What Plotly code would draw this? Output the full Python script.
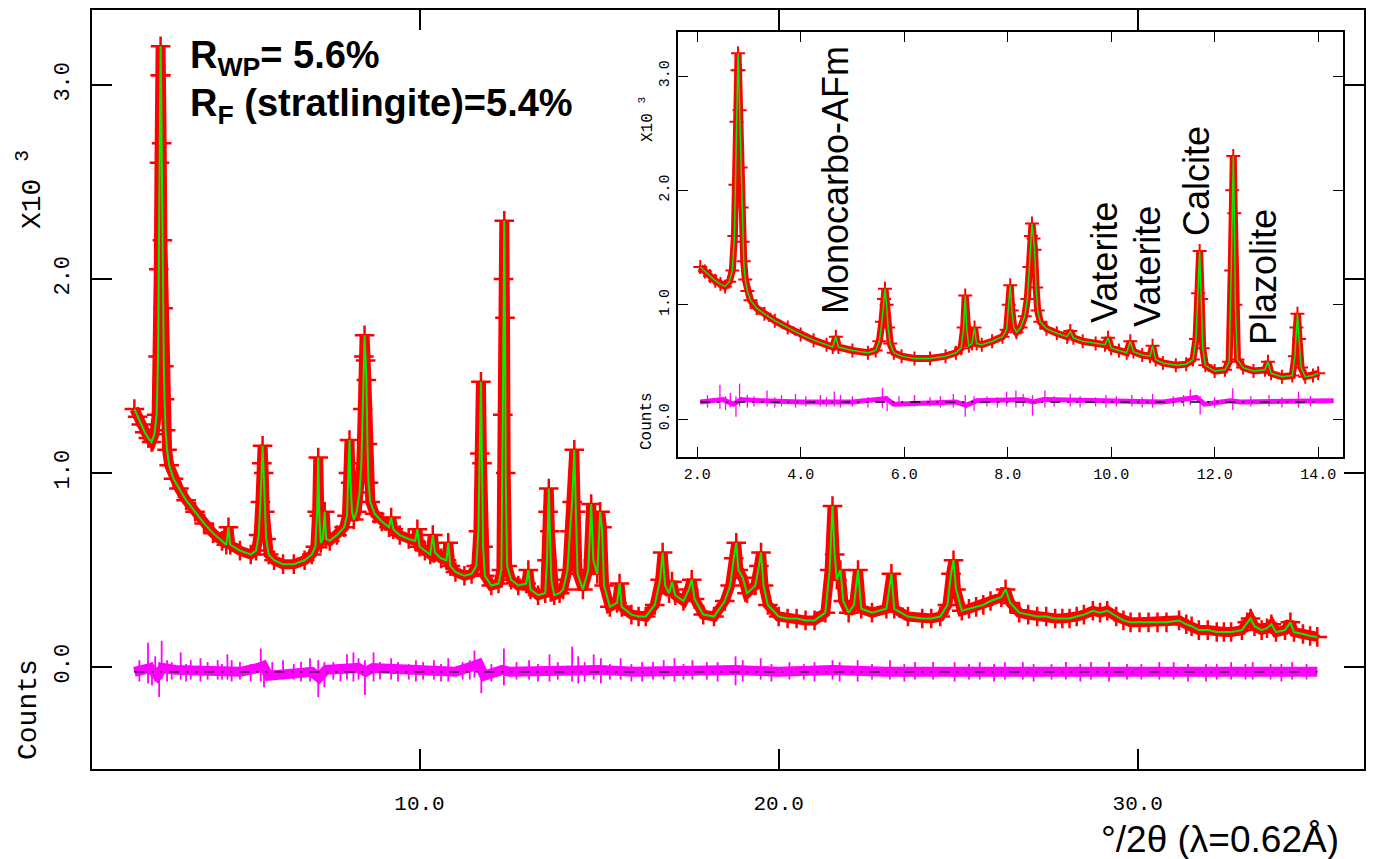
import plotly.graph_objects as go

# ---------------- data ----------------
# 2-theta (degrees) and intensity (counts x10^3); observed ~ calculated profile
two_theta = [
    2.06, 2.15, 2.25, 2.35, 2.45, 2.54, 2.62, 2.68, 2.72, 2.74, 2.76, 2.78, 2.79, 2.80,
    2.82, 2.84, 2.86, 2.88, 2.90, 2.93, 2.97, 3.03, 3.15, 3.30, 3.50, 3.75, 4.00, 4.25,
    4.50, 4.62, 4.68, 4.73, 5.00, 5.30, 5.45, 5.52, 5.57, 5.61, 5.63, 5.66, 5.69, 5.73,
    5.80, 5.95, 6.20, 6.50, 6.80, 7.00, 7.10, 7.15, 7.18, 7.21, 7.25, 7.31, 7.36, 7.40,
    7.50, 7.70, 7.90, 7.98, 8.02, 8.05, 8.08, 8.12, 8.17, 8.25, 8.33, 8.38, 8.42, 8.45,
    8.47, 8.50, 8.52, 8.55, 8.58, 8.63, 8.75, 8.95, 9.15, 9.21, 9.27, 9.45, 9.70, 9.88,
    9.94, 10.00, 10.15, 10.30, 10.37, 10.43, 10.60, 10.75, 10.80, 10.86, 11.00, 11.25,
    11.45, 11.58, 11.64, 11.68, 11.71, 11.74, 11.77, 11.82, 12.00, 12.20, 12.28, 12.32,
    12.34, 12.36, 12.38, 12.40, 12.44, 12.55, 12.75, 12.97, 13.03, 13.09, 13.30, 13.50,
    13.55, 13.58, 13.60, 13.63, 13.67, 13.75, 13.90, 14.00, 14.12, 14.19, 14.25, 14.31,
    14.35, 14.40, 14.55, 14.70, 14.78, 14.84, 14.95, 15.03, 15.08, 15.14, 15.30, 15.50,
    15.57, 15.63, 15.90, 16.10, 16.30, 16.55, 16.70, 16.77, 16.84, 16.95, 17.03, 17.12, 17.35,
    17.50, 17.58, 17.66, 17.90, 18.20, 18.50, 18.65, 18.75, 18.82, 18.88, 19.00, 19.12,
    19.35, 19.45, 19.51, 19.58, 19.70, 20.00, 20.25, 20.50, 20.75, 21.00, 21.30, 21.42, 21.50, 21.56,
    21.62, 21.72, 21.80, 21.95, 22.10, 22.21, 22.30, 22.60, 23.00, 23.14, 23.22, 23.60,
    24.00, 24.25, 24.50, 24.70, 24.80, 24.87, 24.94, 25.10, 25.30, 25.50, 25.70, 25.90, 26.20, 26.32, 26.45,
    26.70, 26.95, 27.20, 27.45, 27.70, 27.90, 28.10, 28.30, 28.50, 28.75, 28.95, 29.15, 29.40, 29.60,
    29.80, 30.05, 30.30, 30.55, 30.80, 31.15, 31.35, 31.50, 31.70, 31.95, 32.20, 32.40, 32.60, 32.90,
    33.05, 33.14, 33.25, 33.45, 33.60, 33.72, 33.85, 34.10, 34.25, 34.35, 34.60, 34.80, 35.00,
]
intensity = [
    1.33, 1.29, 1.25, 1.21, 1.18, 1.16, 1.20, 1.30, 1.60, 2.05, 2.60, 3.05, 3.20, 3.05,
    2.70, 2.20, 1.85, 1.55, 1.38, 1.22, 1.12, 1.04, 0.97, 0.92, 0.86, 0.80, 0.74, 0.69,
    0.65, 0.63, 0.72, 0.63, 0.60, 0.58, 0.60, 0.68, 0.85, 1.05, 1.14, 1.00, 0.80, 0.66,
    0.58, 0.55, 0.53, 0.53, 0.55, 0.58, 0.62, 0.80, 1.08, 0.78, 0.64, 0.66, 0.80, 0.66,
    0.65, 0.68, 0.72, 0.78, 1.00, 1.17, 0.95, 0.80, 0.76, 0.80, 0.90, 1.05, 1.33, 1.60,
    1.71, 1.58, 1.48, 1.15, 0.95, 0.85, 0.79, 0.75, 0.72, 0.77, 0.71, 0.68, 0.66, 0.65,
    0.71, 0.62, 0.60, 0.58, 0.68, 0.59, 0.56, 0.55, 0.64, 0.52, 0.49, 0.47,
    0.48, 0.52, 0.70, 1.10, 1.47, 1.05, 0.62, 0.47, 0.42, 0.43, 0.50, 1.30,
    2.00, 2.30, 1.80, 1.00, 0.52, 0.45, 0.42, 0.43, 0.50, 0.40, 0.37, 0.38,
    0.55, 0.80, 0.92, 0.70, 0.45, 0.37, 0.38, 0.40, 0.50, 0.70, 0.85, 1.12,
    0.80, 0.48, 0.40, 0.50, 0.84, 0.55, 0.48, 0.80, 0.72, 0.42, 0.31, 0.33,
    0.43, 0.31, 0.27, 0.26, 0.26, 0.32, 0.45, 0.59, 0.42, 0.38, 0.44, 0.37, 0.34,
    0.40, 0.45, 0.35, 0.27, 0.26, 0.34, 0.42, 0.56, 0.64, 0.50, 0.46, 0.38,
    0.42, 0.52, 0.59, 0.42, 0.32, 0.26, 0.25, 0.25, 0.24, 0.24, 0.28, 0.50, 0.83, 0.58,
    0.45, 0.50, 0.34, 0.28, 0.32, 0.50, 0.30, 0.28, 0.30, 0.48, 0.30, 0.26,
    0.25, 0.25, 0.26, 0.32, 0.48, 0.55, 0.40, 0.29, 0.30, 0.31, 0.32, 0.34, 0.36, 0.40, 0.33,
    0.28, 0.27, 0.26, 0.26, 0.25, 0.25, 0.25, 0.26, 0.27, 0.29, 0.28, 0.29, 0.26, 0.24,
    0.23, 0.23, 0.23, 0.23, 0.23, 0.24, 0.22, 0.21, 0.19, 0.19, 0.18, 0.18, 0.18, 0.19,
    0.23, 0.25, 0.21, 0.19, 0.20, 0.22, 0.18, 0.19, 0.23, 0.18, 0.17, 0.16, 0.155,
]

# difference curve (obs - calc), counts x10^3, relative to its own base line
diff_x = [2.06, 2.30, 2.50, 2.70, 2.85, 3.20, 4.00, 5.00, 5.50, 5.65, 5.80, 7.00,
          7.20, 7.40, 8.30, 8.50, 8.70, 9.50, 11.00, 11.50, 11.65, 11.80, 12.30,
          12.50, 14.30, 15.00, 16.00, 18.80, 20.00, 21.50, 23.00, 25.00, 28.00,
          30.00, 33.00, 35.00]
diff_y = [0.00, 0.01, 0.02, -0.02, 0.02, 0.01, 0.00, 0.00, 0.02, 0.03, -0.02, 0.00,
          -0.03, 0.01, 0.02, 0.00, 0.02, 0.01, 0.00, 0.03, 0.04, -0.02, 0.01,
          0.00, 0.01, 0.01, 0.00, 0.01, 0.00, 0.01, 0.00, 0.00, 0.00,
          0.00, 0.00, 0.00]
spike_x = [2.44, 2.64, 2.75, 2.82, 2.97, 3.35, 3.63, 3.90, 4.38, 4.65, 4.77, 5.58,
           5.67, 6.20, 6.95, 7.18, 7.35, 7.98, 8.16, 8.30, 8.48, 8.72, 9.21, 9.90,
           10.40, 10.80, 11.53, 11.72, 12.35, 13.05, 13.62, 14.25, 14.42, 14.85,
           15.05, 15.60, 16.20, 16.80, 17.10, 17.60, 18.30, 18.80, 19.00, 19.50,
           20.30, 21.00, 21.50, 22.20, 23.10, 23.80, 24.90, 25.60, 26.30, 27.10,
           28.00, 28.70, 29.20, 30.10, 31.00, 31.90, 32.60, 33.20, 33.70, 34.30,
           2.20, 2.55, 3.10, 3.50, 4.10, 4.50, 5.00, 5.30, 5.90, 6.50, 6.70, 7.60,
           7.80, 8.90, 9.40, 9.70, 10.10, 10.60, 11.20, 11.40, 12.00, 12.70, 13.30,
           13.85, 14.60, 15.30, 15.90, 16.50, 17.35, 18.00, 19.80, 20.70, 21.70,
           22.60, 23.50, 24.30, 25.30, 26.00, 26.80, 27.60, 28.40, 29.70, 30.60,
           31.40, 32.20, 33.00, 34.00, 34.70]
spike_hi = [0.15, 0.08, 0.05, 0.16, 0.06, 0.10, 0.06, 0.07, 0.06, 0.09, 0.06, 0.12,
            0.05, 0.06, 0.07, 0.06, 0.05, 0.09, 0.10, 0.07, 0.06, 0.10, 0.07, 0.06,
            0.06, 0.07, 0.11, 0.05, 0.12, 0.06, 0.09, 0.13, 0.08, 0.09,
            0.07, 0.07, 0.05, 0.06, 0.07, 0.06, 0.05, 0.08, 0.06, 0.07,
            0.05, 0.05, 0.06, 0.06, 0.06, 0.05, 0.05, 0.05, 0.05, 0.04,
            0.05, 0.05, 0.05, 0.04, 0.05, 0.04, 0.05, 0.05, 0.04, 0.05,
            0.06, 0.05, 0.05, 0.04, 0.05, 0.04, 0.05, 0.04, 0.05, 0.04, 0.05, 0.05,
            0.04, 0.05, 0.05, 0.04, 0.05, 0.04, 0.05, 0.06, 0.04, 0.05, 0.04,
            0.05, 0.05, 0.04, 0.04, 0.05, 0.04, 0.05, 0.04, 0.04, 0.05,
            0.04, 0.04, 0.05, 0.04, 0.04, 0.05, 0.04, 0.04, 0.04, 0.05,
            0.04, 0.04, 0.04, 0.04, 0.04]
spike_lo = [-0.06, -0.05, -0.13, -0.04, -0.05, -0.04, -0.04, -0.05, -0.04, -0.04, -0.05, -0.05,
            -0.08, -0.04, -0.05, -0.13, -0.08, -0.04, -0.05, -0.04, -0.12, -0.05, -0.04, -0.05,
            -0.04, -0.05, -0.03, -0.11, -0.07, -0.04, -0.05, -0.05, -0.06, -0.04,
            -0.06, -0.04, -0.05, -0.04, -0.05, -0.04, -0.05, -0.07, -0.05, -0.04,
            -0.04, -0.05, -0.04, -0.05, -0.04, -0.04, -0.05, -0.04, -0.04, -0.05,
            -0.04, -0.04, -0.05, -0.04, -0.04, -0.05, -0.04, -0.04, -0.04, -0.04,
            -0.05, -0.07, -0.04, -0.05, -0.04, -0.04, -0.04, -0.05, -0.04, -0.04, -0.05, -0.04,
            -0.05, -0.04, -0.05, -0.04, -0.04, -0.05, -0.04, -0.04, -0.05, -0.04, -0.05,
            -0.04, -0.05, -0.04, -0.05, -0.04, -0.04, -0.04, -0.05, -0.04, -0.05,
            -0.04, -0.05, -0.04, -0.04, -0.05, -0.04, -0.04, -0.05, -0.04, -0.04,
            -0.05, -0.04, -0.04, -0.05, -0.04]

main_diff_offset = -0.025
inset_diff_offset = 0.15

y_ticks = [0, 1, 2, 3]
y_ticktext = ["0.0", "1.0", "2.0", "3.0"]
main_x_ticks = [10, 20, 30]
main_x_ticktext = ["10.0", "20.0", "30.0"]
inset_x_ticks = [2, 4, 6, 8, 10, 12, 14]
inset_x_ticktext = ["2.0", "4.0", "6.0", "8.0", "10.0", "12.0", "14.0"]

phase_labels = ["Monocarbo-AFm", "Vaterite", "Vaterite", "Calcite", "Plazolite"]

# ---------------- figure ----------------
W, H = 1378, 859
RED, GREEN, MAG = "#ff0000", "#00f000", "#ff00ff"


def px(x):
    return x / W


def py(y):
    return 1 - y / H


fig = go.Figure()


def add_pattern(xa, ya, xs, ys, off, band_w, cross_sz, cross_w, calc_w, diff_w, spike_w):
    fig.add_trace(go.Scatter(x=xs, y=ys, mode="lines", xaxis=xa, yaxis=ya,
                             line=dict(color=RED, width=band_w), hoverinfo="skip"))
    fig.add_trace(go.Scatter(x=xs, y=ys, mode="markers", xaxis=xa, yaxis=ya,
                             marker=dict(symbol="cross-thin", size=cross_sz,
                                         line=dict(color=RED, width=cross_w))))
    fig.add_trace(go.Scatter(x=xs, y=ys, mode="lines", xaxis=xa, yaxis=ya,
                             line=dict(color=GREEN, width=calc_w)))
    xmax = max(xs)
    dx = [v for v in diff_x if v <= xmax + 0.3]
    dy = [diff_y[i] + off for i, v in enumerate(diff_x) if v <= xmax + 0.3]
    fig.add_trace(go.Scatter(x=dx, y=dy, mode="lines", xaxis=xa, yaxis=ya,
                             line=dict(color=MAG, width=diff_w)))
    sx, sy = [], []
    for i, v in enumerate(spike_x):
        if v <= xmax:
            sx += [v, v, None]
            sy += [spike_lo[i] + off, spike_hi[i] + off, None]
    fig.add_trace(go.Scatter(x=sx, y=sy, mode="lines", xaxis=xa, yaxis=ya,
                             line=dict(color=MAG, width=spike_w)))
    fig.add_trace(go.Scatter(x=[xs[0], xs[-1]], y=[off, off], mode="lines",
                             xaxis=xa, yaxis=ya,
                             line=dict(color="black", width=1.5,
                                       dash="10px,7px,2px,7px,2px,7px")))


# main pattern
add_pattern("x", "y", two_theta, intensity, main_diff_offset, 10, 14, 2.5, 2, 10, 1.8)

# inset pattern (2-14 deg)
ins_x = [v for v in two_theta if v <= 14.0]
ins_y = intensity[:len(ins_x)]
add_pattern("x2", "y2", ins_x, ins_y, inset_diff_offset, 7, 10, 2, 1.5, 5, 1.3)

axis_common = dict(showline=True, linecolor="black", mirror="ticks", ticks="inside",
                   tickcolor="black", showgrid=False, zeroline=False)

fig.update_layout(
    width=W, height=H, autosize=False,
    margin=dict(l=0, r=0, t=0, b=0),
    paper_bgcolor="white", plot_bgcolor="white",
    showlegend=False,
    xaxis=dict(domain=[px(92), px(1364)], range=[0.88, 36.3], anchor="y",
               tickvals=main_x_ticks, ticktext=main_x_ticktext, ticklen=20,
               tickwidth=1.5, linewidth=2, ticklabelstandoff=14,
               tickfont=dict(family="Liberation Mono", size=21, color="black"),
               **axis_common),
    yaxis=dict(domain=[py(769), py(10)], range=[-0.526, 3.387], anchor="x",
               tickvals=y_ticks, ticktext=y_ticktext, ticklen=20, tickwidth=1.5,
               linewidth=2, tickangle=-90, ticklabelstandoff=12,
               tickfont=dict(family="Liberation Mono", size=22, color="black"),
               **axis_common),
    xaxis2=dict(domain=[px(678), px(1343)], range=[1.63, 14.48], anchor="y2",
                tickvals=inset_x_ticks, ticktext=inset_x_ticktext, ticklen=10,
                tickwidth=1.2, linewidth=1.5, ticklabelstandoff=2,
                tickfont=dict(family="Liberation Mono", size=15, color="black"),
                **axis_common),
    yaxis2=dict(domain=[py(457), py(32)], range=[-0.332, 3.385], anchor="x2",
                tickvals=y_ticks, ticktext=y_ticktext, ticklen=10, tickwidth=1.2,
                linewidth=1.5, tickangle=-90, ticklabelstandoff=1,
                tickfont=dict(family="Liberation Mono", size=15, color="black"),
                **axis_common),
)

ann = []
mono = "Liberation Mono"
# axis side labels
ann.append(dict(text="X10 <sup>3</sup>", x=px(30), y=py(190), textangle=-90,
                font=dict(family=mono, size=28, color="black")))
ann.append(dict(text="Counts", x=px(28), y=py(710), textangle=-90,
                font=dict(family=mono, size=28, color="black")))
ann.append(dict(text="X10 <sup>3</sup>", x=px(646), y=py(120), textangle=-90,
                font=dict(family=mono, size=16, color="black")))
ann.append(dict(text="Counts", x=px(647), y=py(421), textangle=-90,
                font=dict(family=mono, size=16, color="black")))
# R factors
ann.append(dict(text="<b>R<sub>WP</sub>= 5.6%</b>", x=px(188), y=py(58),
                xanchor="left", yanchor="middle",
                font=dict(family="Liberation Sans", size=38, color="black")))
ann.append(dict(text="<b>R<sub>F</sub> (stratlingite)=5.4%</b>", x=px(188), y=py(106),
                xanchor="left", yanchor="middle",
                font=dict(family="Liberation Sans", size=38, color="black")))
# phase labels in inset
phase_pos = [(835, 180), (1104, 263), (1148, 267), (1196, 181), (1264, 277)]
for lab, (lx, ly) in zip(phase_labels, phase_pos):
    ann.append(dict(text=lab, x=px(lx), y=py(ly), textangle=-90,
                    font=dict(family="Liberation Sans", size=36, color="black")))
# x axis title
ann.append(dict(text="°/2θ (λ=0.62Å)", x=px(1220), y=py(839),
                font=dict(family="Liberation Sans", size=37, color="black")))

for a in ann:
    a.update(xref="paper", yref="paper", showarrow=False)
    a.setdefault("xanchor", "center")
    a.setdefault("yanchor", "middle")
fig.update_layout(annotations=ann)

fig.write_html("out.html")
